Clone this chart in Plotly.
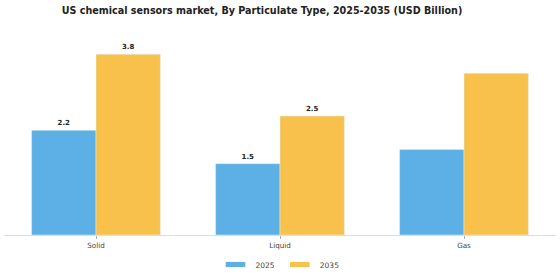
import plotly.graph_objects as go

categories = ["Solid", "Liquid", "Gas"]
series = ["2025", "2035"]
v2025 = [2.2, 1.5, 1.8]
v2035 = [3.8, 2.5, 3.4]
labels2025 = ["2.2", "1.5", ""]
labels2035 = ["3.8", "2.5", ""]
colors = ["#5DB0E5", "#F7C14C"]

lblfont = dict(family="DejaVu Sans", size=7, color="#222222", weight="bold")
fig = go.Figure()
for name, vals, lbls, col in zip(series, [v2025, v2035], [labels2025, labels2035], colors):
    fig.add_trace(go.Bar(name=name, x=categories, y=vals, marker_color=col,
                         text=lbls, textposition="outside", cliponaxis=False,
                         textfont=lblfont, showlegend=False))
for name, col in zip(series, colors):
    fig.add_trace(go.Scatter(name=name, x=[None], y=[None], mode="markers",
                             marker=dict(symbol="line-ew", size=14, color=col,
                                         line=dict(color=col, width=5)),
                             showlegend=True))

fig.update_layout(
    width=560, height=280,
    margin=dict(l=4, r=4, t=30, b=45, autoexpand=False),
    paper_bgcolor="white", plot_bgcolor="white",
    barmode="group", bargap=0.3, bargroupgap=0,
    title=dict(text="<b>US chemical sensors market, By Particulate Type, 2025-2035 (USD Billion)</b>",
               x=262 / 560, xanchor="center", y=1 - 11 / 280, yref="container", yanchor="middle",
               font=dict(family="DejaVu Sans", size=9.6, color="#222222")),
    xaxis=dict(showline=True, linecolor="#dddddd", linewidth=1, ticks="outside", ticklen=3,
               tickcolor="#aaaaaa", tickfont=dict(family="DejaVu Sans", size=7.2, color="#444444")),
    yaxis=dict(visible=False, range=[0, 4.31]),
    legend=dict(orientation="h", x=0.5, xanchor="center", y=0.055, yref="container", yanchor="middle",
                font=dict(family="DejaVu Sans", size=7.5, color="#444444")),
    showlegend=True,
)
fig.write_html("out.html")
